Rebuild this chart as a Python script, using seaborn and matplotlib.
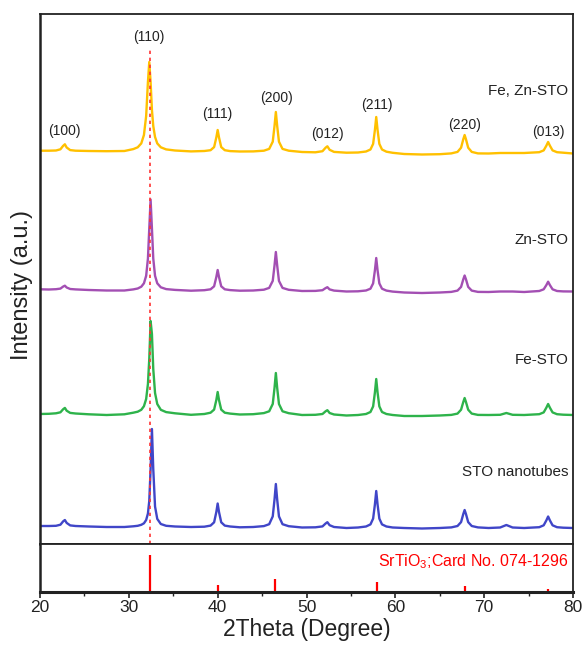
import numpy as np
import pandas as pd
import matplotlib
matplotlib.use("Agg")
import matplotlib.pyplot as plt
import seaborn as sns

# ---------------- data ----------------
two_theta = [20.0, 21.0, 21.8, 22.3, 22.6, 22.8, 23.0, 23.4, 24.0, 25.5, 27.5, 29.5,
             30.5, 31.0, 31.4, 31.7, 31.95, 32.15, 32.3, 32.45, 32.6, 32.75, 32.95, 33.2,
             33.6, 34.2, 35.2, 37.0, 38.5,
             39.2, 39.6, 39.85, 40.0, 40.15, 40.4, 40.8, 41.4, 42.5, 44.0,
             45.2, 45.8, 46.2, 46.4, 46.55, 46.7, 46.9, 47.3, 48.0, 49.5,
             51.0, 51.8, 52.15, 52.35, 52.6, 53.1, 54.5, 55.8,
             56.7, 57.2, 57.5, 57.7, 57.85, 58.0, 58.2, 58.5, 59.0, 59.7, 61.0, 63.0, 65.0,
             66.3, 67.0, 67.4, 67.65, 67.8, 67.95, 68.2, 68.6, 69.3, 70.5,
             71.8, 72.5, 73.2, 74.5,
             76.2, 76.7, 77.0, 77.2, 77.4, 77.7, 78.2, 78.9, 80.0]

fezn_sto = [1.3, 1.3, 1.5, 2.7, 6.1, 7.7, 4.5, 1.9, 1.3, 1.0, 0.8, 1.0,
            2.9, 4.7, 8.6, 17, 36, 70, 90, 70, 42, 26, 15, 8.6,
            4.7, 2.6, 1.5, 0.6, 1.0,
            1.8, 4.9, 14.6, 22, 14.6, 4.9, 1.8, 0.9, 0.5, 0.6,
            1.3, 3.1, 10.3, 26, 40, 26, 10.3, 3.1, 1.3, 0,
            -0.3, 0.8, 4.3, 5.7, 2.2, 0.1, -0.7, -0.5,
            0.5, 2.5, 8.1, 22, 35, 22, 8.1, 2.5, 0.3, -0.8, -2, -2.5, -2.2,
            -1.4, 0.1, 4.3, 12.8, 17, 12.8, 4.3, 0.1, -1.4, -1.5,
            -1, -1, -1, -1,
            -0.2, 1.6, 6.3, 10, 6.3, 1.6, -0.2, -0.7, -1.5]

zn_sto = [1.7, 1.5, 1.8, 2.4, 4.4, 5.3, 3.5, 2.0, 1.6, 1.0, 0.5, 0.5,
          1.6, 2.5, 4.3, 7.7, 15.2, 32.5, 62.5, 91.5, 62.5, 32.5, 15.2, 7.7,
          3.7, 1.9, 1.1, 0.3, 0.8,
          1.7, 4.7, 14, 21, 14, 4.7, 1.7, 0.9, 0.3, 0.5,
          1.3, 3.1, 10.1, 25.5, 39, 25.5, 10.1, 3.1, 1.2, 0,
          0.1, 0.8, 2.9, 3.8, 1.6, 0.4, -0.5, -0.3,
          0.5, 2.3, 7.6, 20.6, 33, 20.6, 7.6, 2.3, 0.4, -0.6, -1.5, -2, -1.5,
          -0.9, 0.4, 4.1, 11.7, 15.5, 11.7, 4.1, 0.4, -0.9, -1,
          -0.5, -0.5, -0.5, -1,
          0, 1.7, 5.9, 9.3, 5.9, 1.7, 0, -0.4, -0.5]

fe_sto = [0, 0.2, 0.7, 1.7, 4.7, 6.1, 3.3, 1.1, 0.5, -0.3, -1, -0.3,
          1.3, 2.3, 4.2, 7.8, 15, 30, 55, 93, 80, 45, 21, 10,
          4.2, 1.9, 0.7, -0.8, 0,
          1.3, 4.4, 14, 22, 14, 4.4, 1.3, 0.4, -0.5, -0.2,
          0.9, 2.7, 10, 26, 41, 26, 10, 2.7, 0.8, -1,
          -0.8, 0, 2.7, 3.8, 1, -0.5, -1.5, -1,
          0, 2, 7.6, 21.4, 35, 21.4, 7.6, 2, 0, -1, -2, -2, -1.5,
          -0.9, 0.4, 4.3, 12, 16, 12, 4.3, 0.4, -0.9, -1,
          -0.8, 1.0, -0.8, -1,
          -0.2, 1.6, 6.3, 10, 6.3, 1.6, -0.2, -0.7, -1]

sto_nanotubes = [1, 1, 1.2, 2.3, 5.6, 7.0, 4.1, 1.6, 1.0, 0.5, 0, 0,
                 0.7, 1.2, 2.2, 3.7, 7, 13.5, 26, 58, 98, 58, 20.5, 8.1,
                 3, 1.2, 0.5, 0, 0.3,
                 1.4, 4.7, 15, 23.5, 15, 4.7, 1.4, 0.5, -0.3, 0,
                 0.9, 2.8, 10.6, 27.5, 43, 27.5, 10.6, 2.8, 0.8, -0.5,
                 -0.3, 0.6, 3.5, 4.8, 1.8, 0, -1, -0.5,
                 0.5, 2.6, 8.4, 22.5, 36, 22.5, 8.4, 2.6, 0.5, -0.5, -1, -1.5, -1,
                 -0.4, 1, 4.9, 13, 17, 13, 4.9, 1, -0.4, -1,
                 -0.5, 2, -0.5, -1,
                 -0.2, 1.7, 6.6, 10.5, 6.6, 1.7, -0.2, -0.7, -1]

samples = ["Fe, Zn-STO", "Zn-STO", "Fe-STO", "STO nanotubes"]
offsets = [393, 254, 131, 18]          # vertical stacking offsets (a.u.)
label_y = [454, 305, 185, 73]          # sample-label heights (a.u.)

hkl_labels = ["(100)", "(110)", "(111)", "(200)", "(012)", "(211)", "(220)", "(013)"]
hkl_pos = [22.8, 32.3, 40.0, 46.6, 52.4, 57.9, 67.8, 77.2]
hkl_y = [414, 508, 431, 447, 411, 440, 420, 413]

card_pos = [22.8, 32.4, 40.0, 46.5, 52.3, 57.9, 67.8, 72.5, 77.2]
card_int = [3, 100, 18, 35, 2, 27, 15, 1.5, 7.5]

colors = ["#FFC000", "#A34FB3", "#2EB34B", "#4046C8"]

# ---------------- build table ----------------
series = [fezn_sto, zn_sto, fe_sto, sto_nanotubes]
frames = []
for name, vals, off in zip(samples, series, offsets):
    frames.append(pd.DataFrame({"theta": two_theta,
                                "intensity": np.array(vals, float) + off,
                                "sample": name}))
df = pd.concat(frames, ignore_index=True)

# ---------------- plot ----------------
sns.set_theme(style="white")
plt.rcParams["font.family"] = ["Liberation Sans", "DejaVu Sans"]
plt.rcParams["mathtext.fontset"] = "custom"
plt.rcParams["mathtext.rm"] = "Liberation Sans"
plt.rcParams["mathtext.it"] = "Liberation Sans:italic"

W, H = 583, 645
fig = plt.figure(figsize=(W / 100, H / 100), dpi=100)
ax1 = fig.add_axes([40 / W, 1 - 544 / H, 533 / W, 530 / H])
ax2 = fig.add_axes([40 / W, 1 - 592 / H, 533 / W, 48 / H])

sns.lineplot(data=df, x="theta", y="intensity", hue="sample", hue_order=samples,
             palette=colors, estimator=None, sort=False, legend=False,
             linewidth=1.7, ax=ax1)

ax1.plot([32.4, 32.4], [1, 497], color="#FF3333", lw=1.2, dashes=(2, 2.2))

for lab, x, y in zip(hkl_labels, hkl_pos, hkl_y):
    ax1.text(x, y, lab, ha="center", va="center", fontsize=10, color="#222222")
for lab, y in zip(samples, label_y):
    ax1.text(79.5, y, lab, ha="right", va="center", fontsize=11, color="#222222")

ax1.set_xlim(20, 80)
ax1.set_ylim(1, 531)
ax1.set_xticks([])
ax1.set_yticks([])
ax1.set_xlabel("")
ax1.set_ylabel("")
for s in ax1.spines.values():
    s.set_color("#222222")
    s.set_linewidth(1.3)
ax1.spines["left"].set_linewidth(1.8)

# reference card
ax2.vlines(card_pos, 0, card_int, color="#FF0000", lw=1.6)
ax2.text(79.5, 81, r"SrTiO$_3$;Card No. 074-1296", ha="right", va="center",
         fontsize=11.5, color="#FF0000")
ax2.set_xlim(20, 80)
ax2.set_ylim(0, 130)
ax2.set_yticks([])
ax2.set_xticks([20, 30, 40, 50, 60, 70, 80])
ax2.set_xticks([25, 35, 45, 55, 65, 75], minor=True)
ax2.tick_params(axis="x", which="major", direction="out", length=4, width=1.2,
                labelsize=12.5, pad=2, bottom=True, colors="#222222")
ax2.tick_params(axis="x", which="minor", direction="out", length=3, width=1.0,
                bottom=True, colors="#222222")
for s in ax2.spines.values():
    s.set_color("#222222")
    s.set_linewidth(1.3)
ax2.spines["bottom"].set_linewidth(2.2)
ax2.spines["left"].set_linewidth(1.8)
ax2.set_xlabel("2Theta (Degree)", fontsize=16.5, labelpad=2, color="#222222")

fig.text(22 / W, 1 - 285 / H, "Intensity (a.u.)", rotation=90, ha="center",
         va="center", fontsize=17, color="#222222")

fig.savefig("out.png", dpi=100, facecolor="white")
